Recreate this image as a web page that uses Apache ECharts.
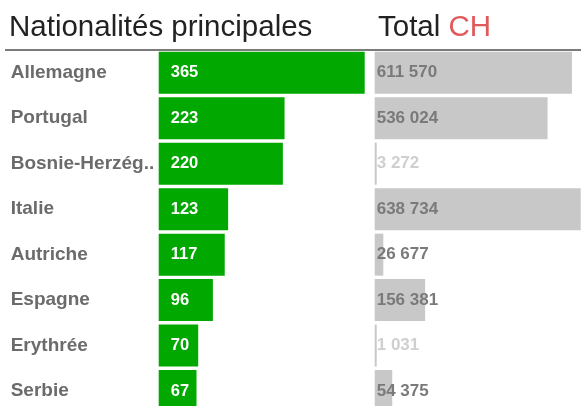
<!DOCTYPE html>
<html>
<head>
<meta charset="utf-8">
<script src="https://cdn.jsdelivr.net/npm/echarts@6/dist/echarts.min.js"></script>
<style>
  html, body { margin: 0; padding: 0; background: #fff; overflow: hidden; }
  /* taller than the window: the last row is cut off at the bottom, as in the original */
  #chart { width: 581px; height: 420px; }
</style>
</head>
<body>
<div id="chart"></div>
<script>
var categories = ['Allemagne', 'Portugal', 'Bosnie-Herzég..', 'Italie', 'Autriche', 'Espagne', 'Erythrée', 'Serbie'];
var counts = [365, 223, 220, 123, 117, 96, 70, 67];
var totals = [611570, 536024, 3272, 638734, 26677, 156381, 1031, 54375];

var FONT = '"Liberation Sans", Arial, sans-serif';

// 611570 -> "611 570"
function fmt(v) {
    return String(v).replace(/\B(?=(\d{3})+(?!\d))/g, ' ');
}

var chart = echarts.init(document.getElementById('chart'));

var option = {
    animation: false,
    title: [
        {
            text: 'Nationalités principales',
            left: 9,
            top: 13,
            padding: 0,
            textStyle: { fontFamily: FONT, fontSize: 29.5, fontWeight: 'normal', color: '#222' }
        },
        {
            text: 'Total {r|CH}',
            left: 378,
            top: 13,
            padding: 0,
            textStyle: {
                fontFamily: FONT, fontSize: 29.5, fontWeight: 'normal', color: '#222',
                rich: { r: { fontFamily: FONT, fontSize: 29.5, color: '#e05a5c' } }
            }
        }
    ],
    graphic: [
        {
            type: 'line',
            shape: { x1: 5, y1: 50, x2: 581, y2: 50 },
            style: { stroke: '#7b7b7b', lineWidth: 2 },
            z: 10
        }
    ],
    grid: [
        { left: 158.7, width: 206, top: 50, height: 363.8 },
        { left: 374.7, width: 206, top: 50, height: 363.8 }
    ],
    xAxis: [
        { gridIndex: 0, type: 'value', min: 0, max: 'dataMax', show: false },
        { gridIndex: 1, type: 'value', min: 0, max: 'dataMax', show: false }
    ],
    yAxis: [
        {
            gridIndex: 0, type: 'category', data: categories, inverse: true,
            axisLine: { show: false }, axisTick: { show: false }, splitLine: { show: false },
            axisLabel: {
                align: 'left', margin: 148,
                fontFamily: FONT, fontSize: 19, fontWeight: 'bold', color: '#6b6b6b'
            }
        },
        {
            gridIndex: 1, type: 'category', data: categories, inverse: true,
            show: false
        }
    ],
    series: [
        {
            type: 'bar',
            xAxisIndex: 0, yAxisIndex: 0,
            data: counts,
            barWidth: 42,
            itemStyle: { color: '#00a800' },
            label: {
                show: true,
                position: [12, '50%'],
                align: 'left', verticalAlign: 'middle',
                fontFamily: FONT, fontSize: 16.5, fontWeight: 'bold', color: '#fff'
            }
        },
        {
            type: 'bar',
            xAxisIndex: 1, yAxisIndex: 1,
            data: totals.map(function (v) {
                return {
                    value: v,
                    label: { color: v < 5000 ? '#cfcfcf' : '#7a7a7a' }
                };
            }),
            barWidth: 42,
            barMinHeight: 2,
            itemStyle: { color: '#c8c8c8' },
            label: {
                show: true,
                position: [2, '50%'],
                align: 'left', verticalAlign: 'middle',
                fontFamily: FONT, fontSize: 17, fontWeight: 'bold',
                formatter: function (p) { return fmt(p.value); }
            }
        }
    ]
};

chart.setOption(option);
</script>
</body>
</html>
